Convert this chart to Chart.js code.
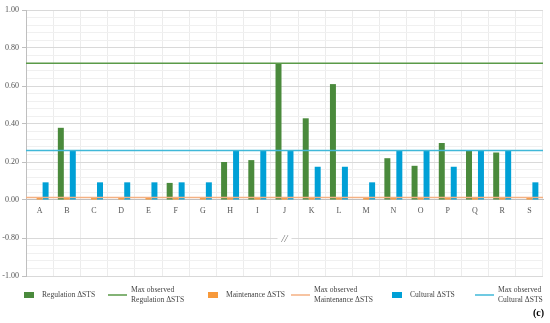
<!DOCTYPE html>
<html>
<head>
<meta charset="utf-8">
<script src="https://cdn.jsdelivr.net/npm/chart.js@4/dist/chart.umd.min.js"></script>
<style>
html,body{margin:0;padding:0;background:#fff;}
</style>
</head>
<body>
<canvas id="chart" width="550" height="323"></canvas>
<script>
// sites A..S
const sites = ['A','B','C','D','E','F','G','H','I','J','K','L','M','N','O','P','Q','R','S'];
const regulation  = [0, 0.38, 0, 0, 0, 0.09, 0, 0.20, 0.21, 0.72, 0.43, 0.61, 0, 0.22, 0.18, 0.30, 0.26, 0.25, 0];
const maintenance = [0.013, 0.013, 0.013, 0.013, 0.013, 0.013, 0.013, 0.013, 0.013, 0.013, 0.013, 0.013, 0.013, 0.013, 0.013, 0.013, 0.013, 0.013, 0.013];
const cultural    = [0.093, 0.26, 0.093, 0.093, 0.093, 0.093, 0.093, 0.26, 0.26, 0.26, 0.175, 0.175, 0.093, 0.26, 0.26, 0.175, 0.26, 0.26, 0.093];
const maxRegulation = 0.72;
const maxMaintenance = 0.013;
const maxCultural = 0.26;
// broken axis: the part from 0 to -0.80 is cut out
const yTickValues = [-0.4, -0.2, 0, 0.2, 0.4, 0.6, 0.8, 1.0];
const yTickLabels = ['-1.00', '-0.80', '0.00', '0.20', '0.40', '0.60', '0.80', '1.00'];

const SERIF = '"Liberation Serif", "DejaVu Serif", serif';
const GREEN = '#4a8a3c', ORANGE = '#f7993b', BLUE = '#00a0d6';

// horizontal "max observed" lines
const refLines = [
    {value: maxRegulation, color: '#5a9a48'},
    {value: maxMaintenance, color: '#f4b183'},
    {value: maxCultural, color: '#40b8d8'}
];

const legendItems = [
    {kind:'box',  color:GREEN,  text:['Regulation ΔSTS']},
    {kind:'line', color:refLines[0].color, text:['Max observed','Regulation ΔSTS']},
    {kind:'box',  color:ORANGE, text:['Maintenance ΔSTS']},
    {kind:'line', color:refLines[1].color, text:['Max observed','Maintenance ΔSTS']},
    {kind:'box',  color:BLUE,   text:['Cultural ΔSTS']},
    {kind:'line', color:refLines[2].color, text:['Max observed','Cultural ΔSTS']}
];

function majorIndex(v){
    for(let i=0;i<yTickValues.length;i++){
        if(Math.abs(yTickValues[i]-v) < 1e-6) return i;
    }
    return -1;
}

const refLinePlugin = {
    id: 'refLines',
    afterDatasetsDraw(chart){
        const ctx = chart.ctx, a = chart.chartArea, y = chart.scales.y;
        ctx.save();
        ctx.lineWidth = 1.5;
        refLines.forEach(r => {
            const py = y.getPixelForValue(r.value);
            ctx.strokeStyle = r.color;
            ctx.beginPath();
            ctx.moveTo(a.left, py);
            ctx.lineTo(a.right, py);
            ctx.stroke();
        });
        // axis break mark under J
        const bx = chart.scales.x.getPixelForValue(9);
        const by = y.getPixelForValue(-0.2);
        ctx.fillStyle = '#fff';
        ctx.fillRect(bx-7, by-3, 14, 6);
        ctx.font = 'italic 11px ' + SERIF;
        ctx.fillStyle = '#777';
        ctx.textAlign = 'center';
        ctx.textBaseline = 'middle';
        ctx.fillText('//', bx, by+1);
        ctx.restore();
    }
};

const legendPlugin = {
    id: 'sketchLegend',
    afterDraw(chart, args, opts){
        const ctx = chart.ctx;
        const cy = chart.chartArea.bottom + 19;
        ctx.save();
        ctx.font = '7.6px ' + SERIF;
        ctx.textBaseline = 'middle';
        legendItems.forEach((it, i) => {
            const x = opts.x[i];
            let tx;
            if(it.kind === 'line'){
                ctx.strokeStyle = it.color;
                ctx.lineWidth = 1.5;
                ctx.beginPath();
                ctx.moveTo(x, cy);
                ctx.lineTo(x+19, cy);
                ctx.stroke();
                tx = x + 23;
            } else {
                ctx.fillStyle = it.color;
                ctx.fillRect(x, cy-3, 10, 6);
                tx = x + 18;
            }
            ctx.fillStyle = '#444';
            const y0 = cy - (it.text.length-1)*5;
            it.text.forEach((t, k) => ctx.fillText(t, tx, y0 + k*10));
        });
        // panel letter
        ctx.font = 'bold 10px ' + SERIF;
        ctx.textAlign = 'right';
        ctx.fillStyle = '#000';
        ctx.fillText('(c)', chart.width - 6, chart.height - 10);
        ctx.restore();
    }
};

new Chart(document.getElementById('chart'), {
    type: 'bar',
    data: {
        labels: sites,
        datasets: [
            {label:'Regulation ΔSTS', data:regulation, backgroundColor:GREEN},
            {label:'Maintenance ΔSTS', data:maintenance, backgroundColor:ORANGE},
            {label:'Cultural ΔSTS', data:cultural, backgroundColor:BLUE}
        ]
    },
    options: {
        responsive: false,
        animation: false,
        devicePixelRatio: 1,
        layout: {padding: {top:10, right:7, bottom:47, left:0}},
        datasets: {bar: {categoryPercentage:0.66, barPercentage:1.0}},
        scales: {
            x: {
                position: {y: 0},
                grid: {offset:true, color:'#ececec', drawTicks:false},
                border: {display:true, color:'#bfbfbf'},
                ticks: {font:{family:SERIF, size:8}, color:'#555', padding:6, autoSkip:false, maxRotation:0}
            },
            y: {
                min: -0.4, max: 1.0,
                afterFit: s => { s.width = 26; },
                ticks: {
                    stepSize: 0.04, autoSkip:false,
                    font:{family:SERIF, size:8}, color:'#555', padding:3,
                    callback: v => { const i = majorIndex(v); return i >= 0 ? yTickLabels[i] : ''; }
                },
                grid: {
                    tickLength: 4,
                    color: c => {
                        const v = c.tick.value;
                        if(majorIndex(v) >= 0) return '#d9d9d9';
                        if(v < 0 && v > -0.2) return 'rgba(0,0,0,0)';
                        return '#f0f0f0';
                    },
                    tickColor: c => majorIndex(c.tick.value) >= 0 ? '#bfbfbf' : 'rgba(0,0,0,0)'
                },
                border: {display:true, color:'#bfbfbf'}
            }
        },
        plugins: {
            legend: {display:false},
            tooltip: {enabled:false},
            sketchLegend: {x:[24, 108, 208, 291, 392, 475]}
        }
    },
    plugins: [refLinePlugin, legendPlugin]
});
</script>
</body>
</html>
